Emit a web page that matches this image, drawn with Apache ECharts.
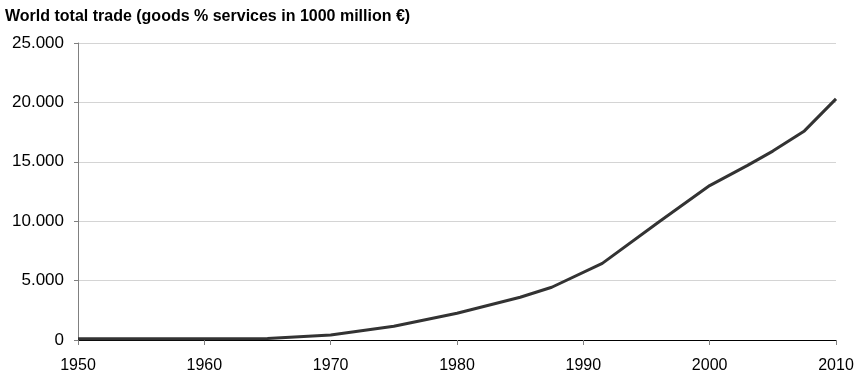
<!DOCTYPE html>
<html>
<head>
<meta charset="utf-8">
<script src="https://cdn.jsdelivr.net/npm/echarts@6/dist/echarts.min.js"></script>
<style>
    html, body { margin: 0; padding: 0; background: #fff; }
    #chart { width: 858px; height: 379px; }
</style>
</head>
<body>
<div id="chart"></div>
<script>
// world total trade
var years = [1950, 1955, 1960, 1965, 1970, 1975, 1980, 1985, 1987.5, 1991.5, 1996, 2000, 2003, 2005, 2007.5, 2010];
var trade = [100, 100, 100, 120, 420, 1150, 2250, 3600, 4440, 6450, 9950, 13000, 14700, 15900, 17600, 20300];
var xTicks = [1950, 1960, 1970, 1980, 1990, 2000, 2010];
var yTicks = [0, 5000, 10000, 15000, 20000, 25000];

function fmt(v){
    // 25000 -> 25.000
    return String(v).replace(/\B(?=(\d{3})+(?!\d))/g, '.');
}

var chart = echarts.init(document.getElementById('chart'));
var points = [];
for (var i = 0; i < years.length; i++) {
    points.push([years[i], trade[i]]);
}
var option = {
    backgroundColor: '#fff',
    animation: false,
    title: {
        text: 'World total trade (goods % services in 1000 million €)',
        left: 0,
        top: 4,
        textStyle: {
            fontFamily: 'Liberation Sans',
            fontWeight: 'bold',
            fontSize: 16,
            color: '#000'
        }
    },
    grid: {
        left: 78,
        right: 22,
        top: 43,
        bottom: 39
    },
    xAxis: {
        type: 'value',
        min: xTicks[0],
        max: xTicks[xTicks.length - 1],
        interval: 10,
        axisLine: { show: true, lineStyle: { color: '#000', width: 1 } },
        axisTick: { show: true, length: 5, lineStyle: { color: '#808080' } },
        splitLine: { show: false },
        axisLabel: {
            fontFamily: 'Liberation Sans',
            fontSize: 16,
            color: '#000',
            margin: 18,
            formatter: function (v) { return String(v); }
        }
    },
    yAxis: {
        type: 'value',
        min: yTicks[0],
        max: yTicks[yTicks.length - 1],
        interval: 5000,
        axisLine: { show: true, lineStyle: { color: '#808080', width: 1 } },
        axisTick: { show: true, length: 4, lineStyle: { color: '#808080' } },
        splitLine: { show: true, lineStyle: { color: '#d4d4d4', width: 1 } },
        axisLabel: {
            fontFamily: 'Liberation Sans',
            fontSize: 17,
            color: '#000',
            margin: 14,
            formatter: fmt
        }
    },
    series: [{
        type: 'line',
        data: points,
        symbol: 'none',
        lineStyle: { color: '#333', width: 3 }
    }]
};
chart.setOption(option);
</script>
</body>
</html>
